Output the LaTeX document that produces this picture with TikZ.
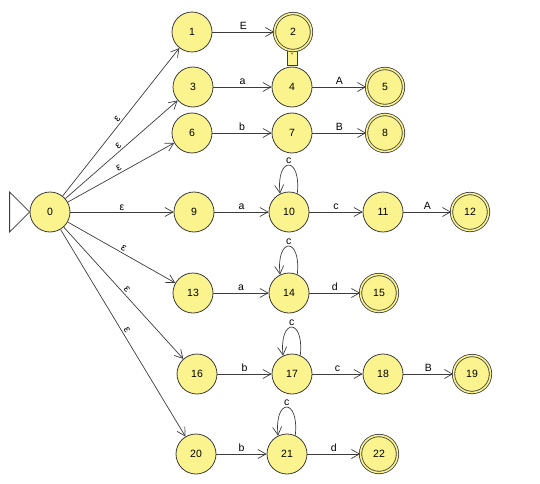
\documentclass[tikz,border=0pt]{standalone}
\usepackage{fontspec}
\setmainfont{Liberation Sans}
\definecolor{stfill}{HTML}{FBF38E}
\definecolor{stline}{HTML}{3C3C3C}
\usetikzlibrary{arrows.meta}
\tikzset{
  >={Straight Barb[length=8pt,width=9pt]},
  st/.style={circle,draw=stline,fill=stfill,line width=0.8pt,minimum size=40pt,inner sep=0pt,font=\fontsize{10.5}{12}\selectfont},
  fin/.style={st,minimum size=37pt,double=stfill,double distance=1.6pt},
  arr/.style={->,draw=stline,line width=0.7pt},
  lab/.style={font=\fontsize{10.5}{12}\selectfont,inner sep=2.5pt},
  selfloop/.style={arr,out=84,in=96,distance=38pt},
}
\begin{document}
\begin{tikzpicture}[x=1pt,y=1pt]
\useasboundingbox (0,0) rectangle (540,483);
% note between 2 and 4
\node[draw=stline,fill=stfill,line width=0.8pt,minimum width=10pt,minimum height=20pt,inner sep=0pt,font=\tiny] (note) at (292,428) {*};
% states
\node[st]  (s0)  at (50,271)  {0};
\node[st]  (s1)  at (192,451) {1};
\node[fin] (s2)  at (293,451) {2};
\node[st]  (s3)  at (193,396) {3};
\node[st]  (s4)  at (292,396) {4};
\node[fin] (s5)  at (385,396) {5};
\node[st]  (s6)  at (192,350) {6};
\node[st]  (s7)  at (292,350) {7};
\node[fin] (s8)  at (385,350) {8};
\node[st]  (s9)  at (194,271) {9};
\node[st]  (s10) at (289,271) {10};
\node[st]  (s11) at (383,271) {11};
\node[fin] (s12) at (470,271) {12};
\node[st]  (s13) at (193,190) {13};
\node[st]  (s14) at (289,190) {14};
\node[fin] (s15) at (379,190) {15};
\node[st]  (s16) at (197,109) {16};
\node[st]  (s17) at (292,109) {17};
\node[st]  (s18) at (383,109) {18};
\node[fin] (s19) at (472,109) {19};
\node[st]  (s20) at (196,29)  {20};
\node[st]  (s21) at (287,29)  {21};
\node[fin] (s22) at (379,29)  {22};
% initial
\draw[draw=stline,line width=0.8pt] (s0.west) -- ++(-20,20) -- ++(0,-40) -- cycle;
% epsilon moves
\foreach \t in {1,3,6,9,13,16,20}
  \draw[arr] (s0) -- node[lab,above,sloped,inner sep=1.5pt] {ε} (s\t);
% symbol moves
\draw[arr] (s1)  -- node[lab,above] {E} (s2);
\draw[arr] (s3)  -- node[lab,above] {a} (s4);
\draw[arr] (s4)  -- node[lab,above] {A} (s5);
\draw[arr] (s6)  -- node[lab,above] {b} (s7);
\draw[arr] (s7)  -- node[lab,above] {B} (s8);
\draw[arr] (s9)  -- node[lab,above] {a} (s10);
\draw[arr] (s10) -- node[lab,above] {c} (s11);
\draw[arr] (s11) -- node[lab,above] {A} (s12);
\draw[arr] (s13) -- node[lab,above] {a} (s14);
\draw[arr] (s14) -- node[lab,above] {d} (s15);
\draw[arr] (s16) -- node[lab,above] {b} (s17);
\draw[arr] (s17) -- node[lab,above] {c} (s18);
\draw[arr] (s18) -- node[lab,above] {B} (s19);
\draw[arr] (s20) -- node[lab,above] {b} (s21);
\draw[arr] (s21) -- node[lab,above] {d} (s22);
% loops
\foreach \t in {10,14,17,21}
  \draw[selfloop] (s\t.66) to node[lab,above,inner sep=1pt] {c} (s\t.116);
\end{tikzpicture}
\end{document}
